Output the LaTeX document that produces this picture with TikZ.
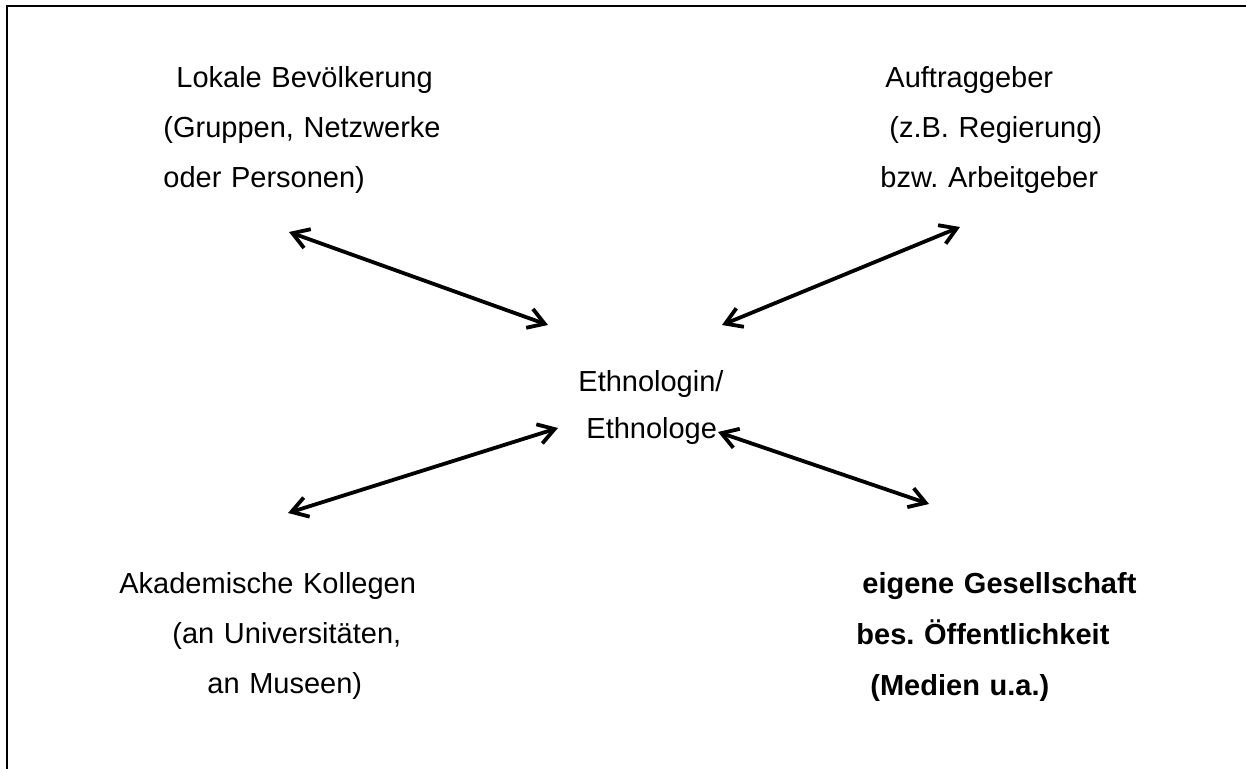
\documentclass[tikz,border=0pt]{standalone}
\usepackage{fontspec}
\setmainfont{Liberation Sans}
\usetikzlibrary{arrows.meta}
\frenchspacing

\begin{document}
\begin{tikzpicture}[
    x=0.5pt, y=-0.5pt,
    party/.style={anchor=base west, inner sep=0pt, align=left, text width=7cm, font=\fontsize{14.5}{25}\selectfont},
    ego/.style={party, font=\fontsize{14.5}{23.3}\selectfont},
    link/.style={{Straight Barb[length=8pt, width=10pt]}-{Straight Barb[length=8pt, width=10pt]}, line width=1.9pt, line cap=round, line join=round}
]
    \useasboundingbox (0,0) rectangle (1246,769);

    % Frame
    \draw[line width=1.1pt] (7,769) -- (7,6) -- (1246,6);

    % Centre
    \node[ego] (ethno) at (578,392) {Ethnologin/\\\hspace*{4pt}Ethnologe};

    % Upper parties
    \node[party] (lokal) at (163,88) {\hspace*{6.5pt}Lokale Bevölkerung\\(Gruppen, Netzwerke\\oder Personen)};
    \node[party] (auftrag) at (880,88) {\hspace*{2.5pt}Auftraggeber\\\hspace*{4.5pt}(z.B. Regierung)\\bzw. Arbeitgeber};

    % Lower parties
    \node[party] (kollegen) at (119,593) {Akademische Kollegen\\\hspace*{26.5pt}(an Universitäten,\\\hspace*{44pt}an Museen)};
    \node[party, font=\fontsize{14.5}{25.5}\selectfont\bfseries] (gesellschaft) at (856,593) {\hspace*{3pt}eigene Gesellschaft\\bes. Öffentlichkeit\\\hspace*{7pt}(Medien u.a.)};

    % Arrow ends
    \coordinate (lokal-end) at (289,232);
    \coordinate (ethno-nw) at (548,325);
    \coordinate (auftrag-end) at (960,227);
    \coordinate (ethno-ne) at (722,325);
    \coordinate (kollegen-end) at (288,513);
    \coordinate (ethno-sw) at (558,428);
    \coordinate (gesellschaft-end) at (929,504);
    \coordinate (ethno-se) at (718,432);

    % Connections
    \draw[link] (lokal-end) -- (ethno-nw);
    \draw[link] (ethno-ne) -- (auftrag-end);
    \draw[link] (ethno-sw) -- (kollegen-end);
    \draw[link] (ethno-se) -- (gesellschaft-end);
\end{tikzpicture}
\end{document}
